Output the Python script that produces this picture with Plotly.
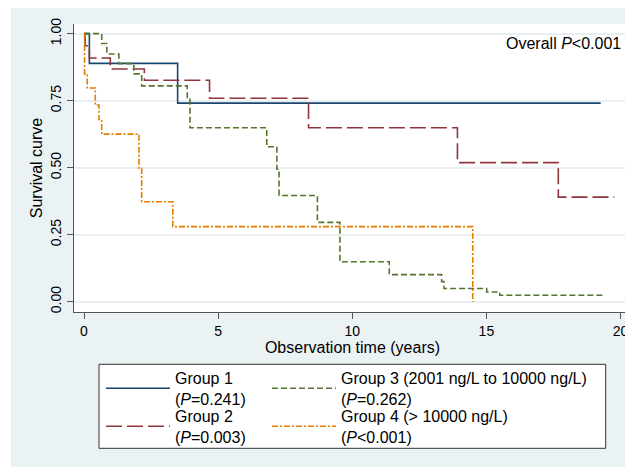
import plotly.graph_objects as go

# ---- data ----
g1_time = [0, 0.20, 3.49, 19.26]
g1_surv = [1.0, 0.889, 0.741, 0.741]

g2_time = [0, 0.04, 0.20, 0.98, 2.25, 4.68, 8.37, 13.92, 17.68, 19.77]
g2_surv = [1.0, 0.955, 0.909, 0.868, 0.826, 0.759, 0.649, 0.519, 0.390, 0.390]

g3_time = [0, 0.66, 0.85, 1.30, 1.86, 2.15, 3.85, 3.95, 6.81, 7.19, 7.27, 8.70,
           9.54, 11.38, 13.33, 13.42, 15.01, 15.50, 19.42]
g3_surv = [1.0, 0.963, 0.924, 0.888, 0.850, 0.805, 0.756, 0.649, 0.578, 0.494, 0.396, 0.296,
           0.149, 0.101, 0.075, 0.049, 0.036, 0.024, 0.024]

g4_time = [0, 0.02, 0.12, 0.42, 0.56, 0.66, 2.05, 2.15, 3.31, 14.49]
g4_surv = [1.0, 0.85, 0.797, 0.734, 0.680, 0.625, 0.498, 0.373, 0.280, 0.0]

group_names = [
    "Group 1<br>(<i>P</i>=0.241)",
    "Group 2<br>(<i>P</i>=0.003)",
    "Group 3 (2001 ng/L to 10000 ng/L)<br>(<i>P</i>=0.262)",
    "Group 4 (&gt; 10000 ng/L)<br>(<i>P</i>&lt;0.001)",
]
x_ticks = [0, 5, 10, 15, 20]
y_ticks = [0, 0.25, 0.5, 0.75, 1.0]
y_ticktext = ["0.00", "0.25", "0.50", "0.75", "1.00"]

# ---- figure ----
# the page body has an 8px margin, so the figure is placed at (8, 8) in the window
OFF = 8
W, H = 633 - OFF, 467 - OFF
ML, MR, MT, MB = 74 - OFF, 2, 24 - OFF, 155
PW, PH = W - ML - MR, H - MT - MB

def px_x(px):  # window pixel -> paper fraction
    return (px - OFF - ML) / PW

def px_y(py):
    return (H - MB - (py - OFF)) / PH

FONT = "Arial, 'Liberation Sans', sans-serif"

fig = go.Figure()
series = [
    (g1_time, g1_surv, "#1a476f", "solid", "legend", 101, 388.5),
    (g2_time, g2_surv, "#90353b", "16px,5px", "legend2", 101, 426.5),
    (g3_time, g3_surv, "#55752f", "6px,3px", "legend3", 267, 388.5),
    (g4_time, g4_surv, "#e37e00", "6px,2px,2px,2px", "legend4", 267, 426.5),
]
legends = {}
for (t, s, c, d, lg, lx, ly), name in zip(series, group_names):
    fig.add_trace(go.Scatter(
        x=t, y=s, mode="lines", name=name, legend=lg,
        line=dict(color=c, width=1.6, dash=d, shape="hv"),
        hoverinfo="skip",
    ))
    legends[lg] = dict(
        x=px_x(lx), y=px_y(ly), xanchor="left", yanchor="middle",
        bgcolor="rgba(0,0,0,0)", borderwidth=0, itemwidth=64,
        font=dict(family=FONT, size=16, color="black"),
    )

fig.update_layout(
    width=W, height=H,
    margin=dict(l=ML, r=MR, t=MT, b=MB, autoexpand=False),
    paper_bgcolor="#eaf2f3",
    plot_bgcolor="white",
    font=dict(family=FONT, size=16, color="black"),
    showlegend=True,
    **legends,
    xaxis=dict(
        range=[-0.373, 20.39], tickvals=x_ticks, automargin=False,
        ticks="outside", ticklen=6, tickwidth=1.2, tickcolor="#555",
        showline=True, linecolor="#555", linewidth=1.2,
        showgrid=False, zeroline=False,
        tickfont=dict(size=14),
        title=dict(text="Observation time (years)", font=dict(size=16), standoff=2),
    ),
    yaxis=dict(
        range=[-0.0384, 1.036], tickvals=y_ticks, ticktext=y_ticktext, automargin=False,
        tickangle=-90,
        ticks="outside", ticklen=6, tickwidth=1.2, tickcolor="#555",
        showline=True, linecolor="#555", linewidth=1.2,
        showgrid=True, gridcolor="#e8eff1", gridwidth=1.5, zeroline=False,
        tickfont=dict(size=14),
        title=dict(text="Survival curve", font=dict(size=16), standoff=1),
    ),
    shapes=[
        # white strip on the left
        dict(type="rect", xref="paper", yref="paper", layer="below",
             x0=px_x(OFF), x1=px_x(11), y0=px_y(467), y1=px_y(OFF),
             fillcolor="white", line=dict(width=0)),
        # legend box
        dict(type="rect", xref="paper", yref="paper", layer="below",
             x0=px_x(99), x1=px_x(605.7), y0=px_y(448.3), y1=px_y(364.3),
             fillcolor="white", line=dict(color="#333", width=1)),
    ],
    annotations=[
        dict(text="Overall <i>P</i>&lt;0.001", xref="paper", yref="paper",
             x=px_x(623), y=px_y(43.5), xanchor="right", yanchor="middle",
             showarrow=False, font=dict(size=16)),
    ],
)

fig.write_html("out.html")
